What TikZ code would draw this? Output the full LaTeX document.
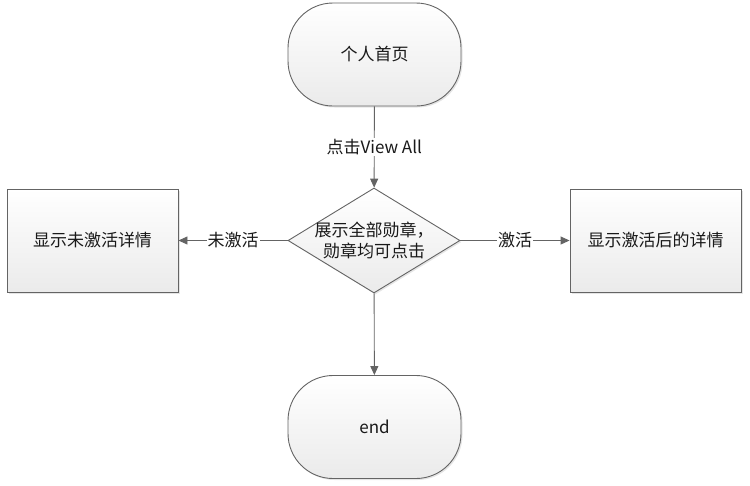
\documentclass[tikz,border=0pt]{standalone}
\usepackage{fontspec}
\setmainfont{Noto Sans CJK SC}
\usetikzlibrary{shapes.geometric,arrows.meta,shadows}
\definecolor{edge}{RGB}{100,100,100}
\definecolor{txt}{RGB}{25,25,25}
\tikzset{
  base/.style={draw=edge, line width=0.9pt, top color=white, bottom color=black!8,
    drop shadow={shadow xshift=1.5pt, shadow yshift=-1.5pt, opacity=0.25, fill=black!40},
    text=txt, font=\fontsize{17}{21}\selectfont, inner sep=0pt},
  term/.style={base, rectangle, rounded corners=45pt, minimum width=173pt, minimum height=103pt},
  procbox/.style={base, rectangle, minimum width=171pt, minimum height=103pt},
  decision/.style={base, diamond, minimum width=172pt, minimum height=105pt, aspect=1.64},
  conn/.style={draw=edge, line width=0.9pt, -{Triangle[length=9pt,width=8pt]}},
  lab/.style={fill=white, text=txt, font=\fontsize{17}{21}\selectfont, inner sep=1pt},
  plain/.style={text=txt, font=\fontsize{17}{21}\selectfont, inner sep=0pt, align=center}
}
\begin{document}
\begin{tikzpicture}[x=1pt,y=-1pt]
\useasboundingbox (0,0) rectangle (750,485);
\node[term] (start) at (374.5,54.5) {个人首页};
\node[decision] (dec) at (374,240.5) {};
\node[plain] (dectext) at (dec.center) {展示全部勋章，\\勋章均可点击};
\node[procbox] (left) at (92.5,240.5) {显示未激活详情};
\node[procbox] (right) at (655.5,240.5) {显示激活后的详情};
\node[term] (end) at (374.5,427) {end};
\draw[conn] (start) -- node[lab, pos=0.5] {点击View All} (dec);
\draw[conn] (dec) -- node[lab, pos=0.5] {未激活} (left);
\draw[conn] (dec) -- node[lab, pos=0.5] {激活} (right);
\draw[conn] (dec) -- (end);
\end{tikzpicture}
\end{document}
